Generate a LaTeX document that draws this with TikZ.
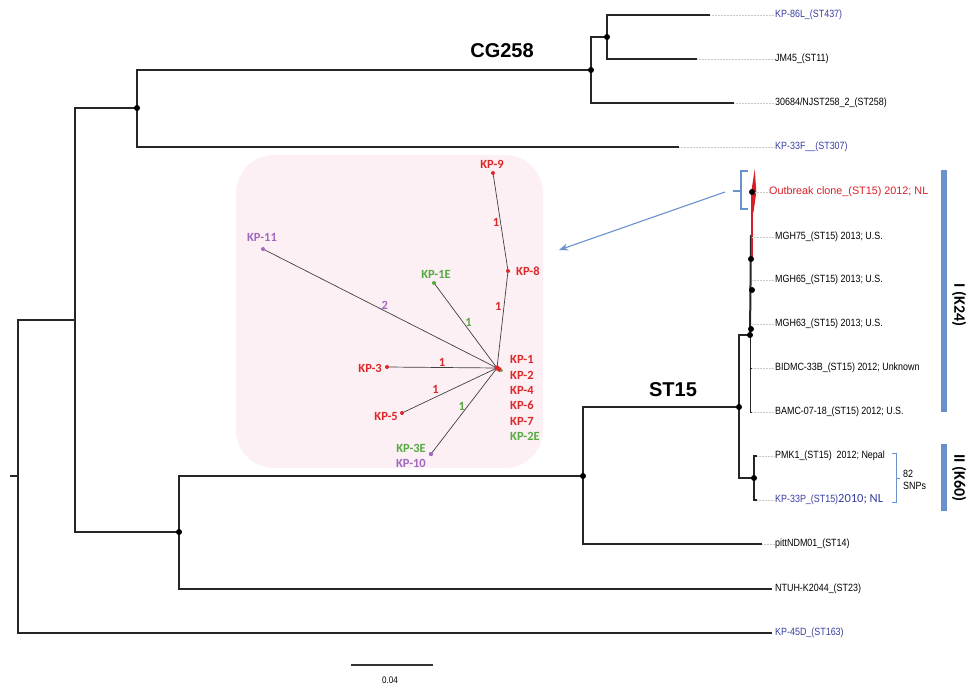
\documentclass[tikz,border=0pt]{standalone}
\usepackage{fontspec}
\setmainfont{Liberation Sans}
\newfontfamily\narrowfont[FakeStretch=0.85]{Liberation Sans}
\newfontfamily\calfont{Carlito}
\usetikzlibrary{arrows.meta}
\definecolor{treeblue}{RGB}{55,60,160}
\definecolor{clonered}{RGB}{215,30,40}
\definecolor{barblue}{RGB}{105,145,205}
\definecolor{netred}{RGB}{220,40,40}
\definecolor{netgreen}{RGB}{85,170,65}
\definecolor{netpurple}{RGB}{160,105,190}
\definecolor{boxpink}{RGB}{253,240,244}
\definecolor{leadgray}{RGB}{200,200,200}

\begin{document}
\begin{tikzpicture}[x=1pt, y=-1pt,
    br/.style={line width=1.1pt, draw=black!85},
    lead/.style={leadgray, line width=0.5pt, densely dotted},
    leaf/.style={anchor=west, inner sep=0pt, font=\narrowfont\fontsize{10.5}{12}\selectfont},
    clade/.style={font=\bfseries\fontsize{20}{24}\selectfont},
    net/.style={font=\calfont\bfseries\fontsize{12.5}{14}\selectfont, inner sep=1pt},
    edge/.style={black!75, line width=0.7pt}]
  \useasboundingbox (0,0) rectangle (970,687);

  % minimum spanning tree panel
  \fill[boxpink, rounded corners=38pt] (236,155) rectangle (543,468);
  \coordinate (hub) at (497,368);
  \coordinate (kp9) at (493,173);
  \coordinate (kp8) at (508,271);
  \coordinate (kp11) at (263,249);
  \coordinate (kp1e) at (434,283);
  \coordinate (kp3) at (387,367);
  \coordinate (kp5) at (402,413);
  \coordinate (kp10) at (431,454);
  \draw[edge] (kp9) -- node[net, text=netred, left=0pt] (e1) {1} (kp8);
  \draw[edge] (kp8) -- node[net, text=netred, pos=0.37, left=1pt] (e2) {1} (hub);
  \draw[edge] (kp11) -- node[net, text=netpurple, pos=0.52, above=0pt] (e3) {2} (hub);
  \draw[edge] (kp1e) -- node[net, text=netgreen, pos=0.46, right=1pt] (e4) {1} (hub);
  \draw[edge] (kp3) -- node[net, text=netred, pos=0.5, above=0pt] (e5) {1} (hub);
  \draw[edge] (kp5) -- node[net, text=netred, pos=0.4, above left=0pt] (e6) {1} (hub);
  \draw[edge] (kp10) -- node[net, text=netgreen, pos=0.55, left=1pt] (e7) {1} (hub);
  \foreach \p in {kp9,kp8,kp3,kp5} \fill[netred] (\p) circle (2pt);
  \fill[netpurple] (kp11) circle (2pt);
  \fill[netpurple] (kp10) circle (2.2pt);
  \fill[netgreen] (kp1e) circle (2pt);
  \fill[netred] (hub) circle (2.6pt);
  \fill[netred] (499.5,369.5) circle (2.4pt);
  \fill[netgreen] (501.5,370.5) circle (1.5pt);
  \node[net, text=netred] (lkp9) at (492,164) {KP-9};
  \node[net, text=netred, anchor=west] (lkp8) at (515,271) {KP-8};
  \node[net, text=netpurple] (lkp11) at (262,237) {KP-11};
  \node[net, text=netgreen] (lkp1e) at (436,274) {KP-1E};
  \node[net, text=netred, anchor=east] (lkp3) at (383,368) {KP-3};
  \node[net, text=netred, anchor=east] (lkp5) at (399,416) {KP-5};
  \node[net, text=netgreen, anchor=east] (lkp3e) at (427,448) {KP-3E};
  \node[net, text=netpurple, anchor=east] (lkp10) at (427,463) {KP-10};
  \foreach \t/\c [count=\i] in {KP-1/netred,KP-2/netred,KP-4/netred,KP-6/netred,KP-7/netred,KP-2E/netgreen}
    \node[net, anchor=west, text=\c] (hub\i) at (509,{344.5+15.3*\i}) {\t};

  % tree nodes
  \coordinate (stub) at (10,476);
  \coordinate (root) at (18,476);
  \coordinate (nB) at (75,320);
  \coordinate (nA) at (137,108);
  \coordinate (nE) at (591,70);
  \coordinate (nD) at (607,37);
  \coordinate (nC) at (179,532);
  \coordinate (nF) at (583,476);
  \coordinate (nG) at (739,407);
  \coordinate (nH) at (750,335);
  \coordinate (nI) at (754,478);
  % branch tips
  \coordinate (t86) at (710,15);
  \coordinate (tJM) at (697,59);
  \coordinate (t258) at (734,103);
  \coordinate (t33F) at (679,147);
  \coordinate (tPitt) at (762,544);
  \coordinate (tNTUH) at (772,589);
  \coordinate (t45D) at (772,633);
  \coordinate (tPMK) at (757,456);
  \coordinate (t33P) at (757,500);
  \coordinate (tBID) at (752,368);
  \coordinate (tBAMC) at (752,412);
  \coordinate (kOut) at (752,192);
  \coordinate (kRed) at (752,257);
  \coordinate (kTop) at (751,235);
  \coordinate (kM75) at (752,237);
  \coordinate (kM65) at (752,280);
  \coordinate (kM63) at (752,324);
  \coordinate (kd1) at (751,259);
  \coordinate (kd2) at (752,290);
  \coordinate (kd3) at (751,329);

  % branches
  \draw[br] (stub) -- (root);
  \draw[br] (nB) -| (root) |- (t45D);
  \draw[br] (nA) -| (nB) |- (nC);
  \draw[br] (nE) -| (nA) |- (t33F);
  \draw[br] (nD) -| (nE) |- (t258);
  \draw[br] (t86) -| (nD) |- (tJM);
  \draw[br] (nF) -| (nC) |- (tNTUH);
  \draw[br] (nG) -| (nF) |- (tPitt);
  \draw[br] (nH) -| (nG) |- (nI);
  \draw[br] (tPMK) -| (nI) |- (t33P);
  \draw[br, line width=0.8pt] (nH) |- (tBID);
  \draw[br, line width=0.8pt] (nH) |- (tBAMC);
  \draw[br, line width=2pt] (kTop) -- (nH);
  \draw[clonered, line width=1.2pt] (kOut) -- (kRed);
  \fill[clonered] (754.8,169) -- (756.3,192) -- (753.4,213) -- (751.2,192) -- cycle;

  % labels
  \node[leaf, text=treeblue] (l86) at (775,15) {KP-86L\_(ST437)};
  \node[leaf] (lJM) at (775,59) {JM45\_(ST11)};
  \node[leaf] (l258) at (775,103) {30684/NJST258\_2\_(ST258)};
  \node[leaf, text=treeblue] (l33F) at (775,147) {KP-33F\_\_(ST307)};
  \node[leaf, text=clonered, font=\fontsize{10.8}{13}\selectfont] (lOut) at (769,192) {Outbreak clone\_(ST15) 2012; NL};
  \node[leaf] (lM75) at (775,237) {MGH75\_(ST15) 2013; U.S.};
  \node[leaf] (lM65) at (775,280) {MGH65\_(ST15) 2013; U.S.};
  \node[leaf] (lM63) at (775,324) {MGH63\_(ST15) 2013; U.S.};
  \node[leaf] (lBID) at (775,368) {BIDMC-33B\_(ST15) 2012; Unknown};
  \node[leaf] (lBAMC) at (775,412) {BAMC-07-18\_(ST15) 2012; U.S.};
  \node[leaf] (lPMK) at (775,456) {PMK1\_(ST15)\ \ 2012; Nepal};
  \node[leaf, text=treeblue] (l33P) at (775,500) {KP-33P\_(ST15){\calfont\fontsize{12.5}{14}\selectfont 2010; NL}};
  \node[leaf] (lPitt) at (775,544) {pittNDM01\_(ST14)};
  \node[leaf] (lNTUH) at (775,589) {NTUH-K2044\_(ST23)};
  \node[leaf, text=treeblue] (l45D) at (775,633) {KP-45D\_(ST163)};

  % leader lines
  \draw[lead] (t86) -- (l86.west);
  \draw[lead] (tJM) -- (lJM.west);
  \draw[lead] (t258) -- (l258.west);
  \draw[lead] (t33F) -- (l33F.west);
  \draw[lead] (kOut) -- (lOut.west);
  \draw[lead] (kM75) -- (lM75.west);
  \draw[lead] (kM65) -- (lM65.west);
  \draw[lead] (kM63) -- (lM63.west);
  \draw[lead] (tBID) -- (lBID.west);
  \draw[lead] (tBAMC) -- (lBAMC.west);
  \draw[lead] (tPMK) -- (lPMK.west);
  \draw[lead] (t33P) -- (l33P.west);
  \draw[lead] (tPitt) -- (lPitt.west);

  % node dots
  \foreach \p in {nA,nE,nD,nC,nF,nG,nH,nI,kOut,kd1,kd2,kd3} \fill (\p) circle (3pt);

  \node[clade] (cg) at (502,51) {CG258};
  \node[clade] (st) at (673,390) {ST15};

  % outbreak bracket and arrow
  \coordinate (arrS) at (725,192);
  \coordinate (arrT) at (559,250);
  \draw[barblue, line width=1.1pt] (748,171) -- (741,171) -- (741,209) -- (748,209);
  \draw[barblue, line width=1.1pt] (741,191) -- (733,191);
  \draw[barblue, line width=1.1pt, -{Stealth[length=9pt,width=7pt]}] (arrS) -- (arrT);

  % SNP bracket
  \draw[barblue, line width=0.9pt] (892,453) -- (896,453) -- (896,502) -- (892,502);
  \draw[barblue, line width=0.9pt] (896,478) -- (900,478);
  \node[leaf, align=left] (lSNP) at (903,480) {82\\SNPs};

  % capsular groups
  \fill[barblue] (941,170) rectangle (947,412);
  \fill[barblue] (941,444) rectangle (947,511);
  \node[rotate=-90, font=\calfont\bfseries\fontsize{16}{18}\selectfont] (k24) at (959,305) {I (K24)};
  \node[rotate=-90, font=\calfont\bfseries\fontsize{16}{18}\selectfont] (k60) at (959,478) {II (K60)};

  % scale bar
  \coordinate (sbL) at (351,665);
  \coordinate (sbR) at (433,665);
  \draw[line width=1.3pt, black!80] (sbL) -- (sbR);
  \node[leaf, anchor=center, font=\narrowfont\fontsize{9.5}{11}\selectfont] (sbT) at (390,680) {0.04};
\end{tikzpicture}
\end{document}
